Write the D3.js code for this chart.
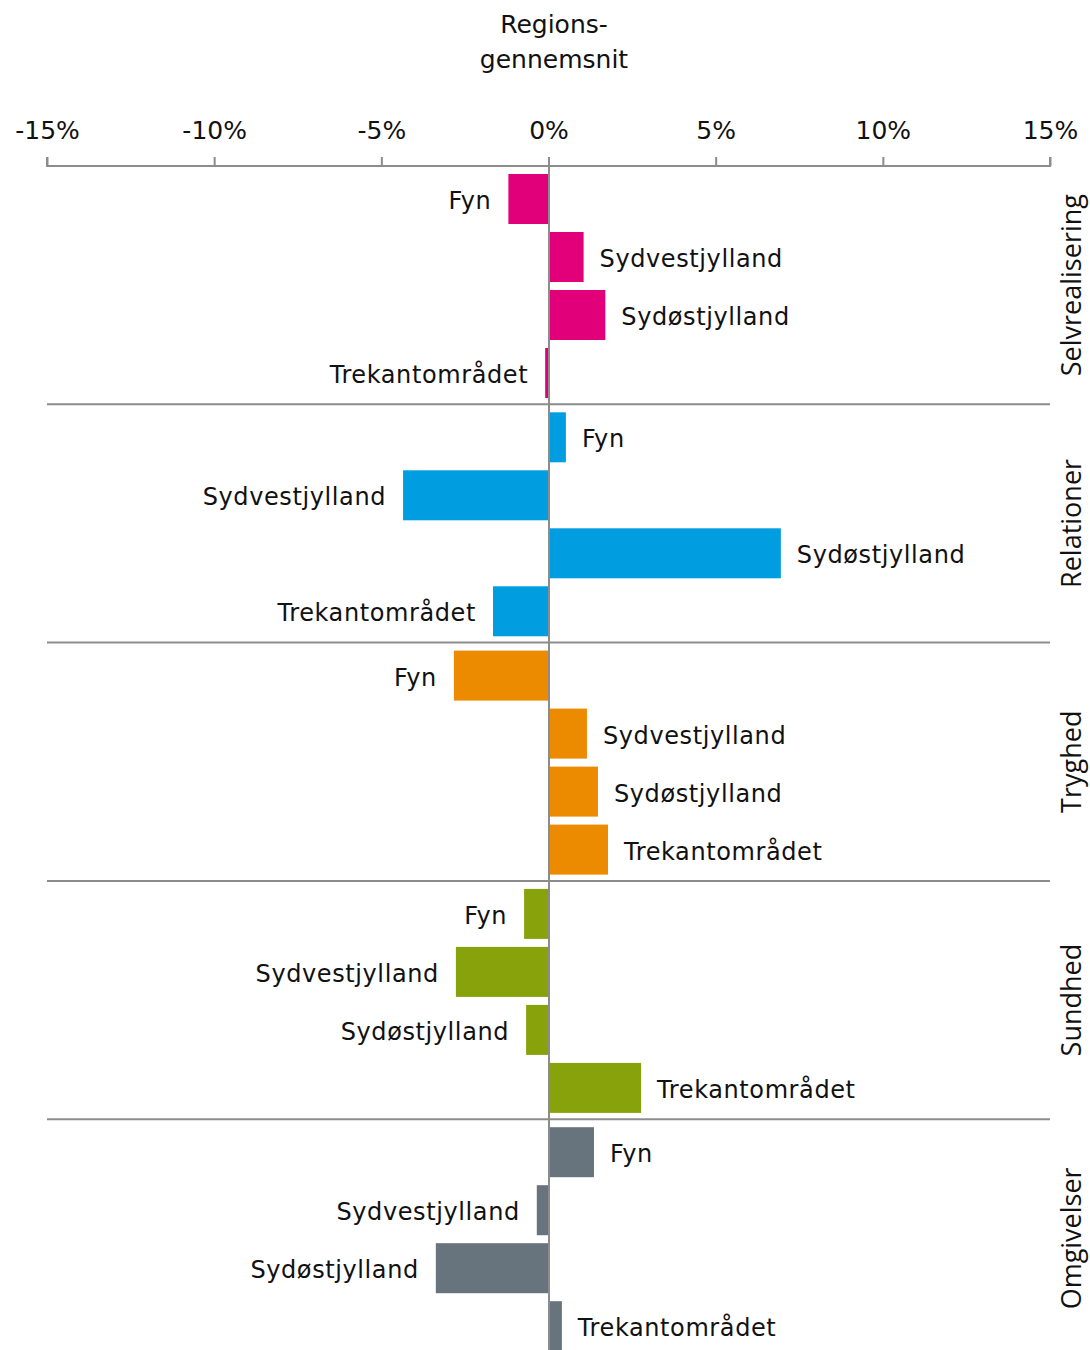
<!DOCTYPE html>
<html><head><meta charset="utf-8">
<script src="https://cdn.jsdelivr.net/npm/d3@7"></script>
<style>body{margin:0;background:#fff}svg{display:block}</style>
</head><body>
<script>
const categories = ["Selvrealisering","Relationer","Tryghed","Sundhed","Omgivelser"];
const regions = ["Fyn","Sydvestjylland","Sydøstjylland","Trekantområdet"];
const selvrealisering = [-1.2, 1.05, 1.7, -0.1];
const relationer = [0.52, -4.35, 6.95, -1.66];
const tryghed = [-2.83, 1.15, 1.48, 1.78];
const sundhed = [-0.73, -2.77, -0.67, 2.77];
const omgivelser = [1.36, -0.35, -3.37, 0.4];
const seriesValues = [selvrealisering, relationer, tryghed, sundhed, omgivelser];
const colors = ["#e2007a","#009ee0","#ec8b00","#87a20b","#67747e"];
const tickValues = [-15,-10,-5,0,5,10,15];
const titleLines = ["Regions-","gennemsnit"];

const W = 1090, H = 1350;
const svg = d3.select("body").append("svg").attr("width", W).attr("height", H);
const font = "'DejaVu Sans', sans-serif";
const grey = "#8c8c8c";

const x = d3.scaleLinear().domain([-15, 15]).range([47, 1050]);
const ySec = d3.scaleBand().domain(categories).range([166, 166 + 5*238.3]).paddingInner(0).paddingOuter(0);
const yIn = d3.scaleBand().domain(regions).range([4, 236]).paddingInner(8/58).paddingOuter(4/58);

// title
svg.append("text").attr("x", 554).attr("text-anchor","middle")
  .style("font-family", font).style("font-size","25px").attr("fill","#111")
  .selectAll("tspan").data(titleLines).join("tspan")
  .attr("x", 554).attr("y", (d,i)=> 33 + i*35).text(d=>d);

// axis
const axis = d3.axisTop(x).tickValues(tickValues).tickSize(9).tickPadding(18)
  .tickFormat(d => d + "%");
const ag = svg.append("g").attr("transform","translate(0,166)").call(axis);
ag.select(".domain").attr("stroke", grey).attr("stroke-width", 2).attr("d", "M47,-9V0H1050V-9");
ag.selectAll(".tick line").attr("stroke", grey).attr("stroke-width", 2);
ag.selectAll(".tick text").style("font-family", font).style("font-size","25px").attr("fill","#111");

// sections
const data = [];
categories.forEach((c, ci) => regions.forEach((r, ri) => data.push({c, r, v: seriesValues[ci][ri], color: colors[ci]})));

const bars = svg.append("g");
bars.selectAll("rect").data(data).join("rect")
  .attr("x", d => x(Math.min(0, d.v)))
  .attr("width", d => Math.abs(x(d.v) - x(0)))
  .attr("y", d => ySec(d.c) + yIn(d.r))
  .attr("height", yIn.bandwidth())
  .attr("fill", d => d.color);

svg.append("g").selectAll("text").data(data).join("text")
  .attr("x", d => d.v >= 0 ? x(d.v) + 16 : x(d.v) - 17)
  .attr("y", d => ySec(d.c) + yIn(d.r) + yIn.bandwidth()/2 + 10)
  .attr("text-anchor", d => d.v >= 0 ? "start" : "end")
  .style("font-family", font).style("font-size","24px").style("letter-spacing","0.6px").attr("fill","#111")
  .text(d => d.r);

// separators
svg.append("g").selectAll("line").data(categories.slice(1)).join("line")
  .attr("x1", 47).attr("x2", 1050)
  .attr("y1", d => ySec(d)).attr("y2", d => ySec(d))
  .attr("stroke", grey).attr("stroke-width", 2);

// zero line
svg.append("line").attr("x1", x(0)+0.5).attr("x2", x(0)+0.5).attr("y1", 166).attr("y2", H)
  .attr("stroke", grey).attr("stroke-width", 2);

// section labels
svg.append("g").selectAll("text").data(categories).join("text")
  .attr("transform", d => `translate(1081,${ySec(d) + ySec.bandwidth()/2}) rotate(-90)`)
  .attr("text-anchor","middle")
  .style("font-family","'Open Sans', sans-serif").style("font-size","27px").attr("fill","#111")
  .text(d => d);
</script>
</body></html>
